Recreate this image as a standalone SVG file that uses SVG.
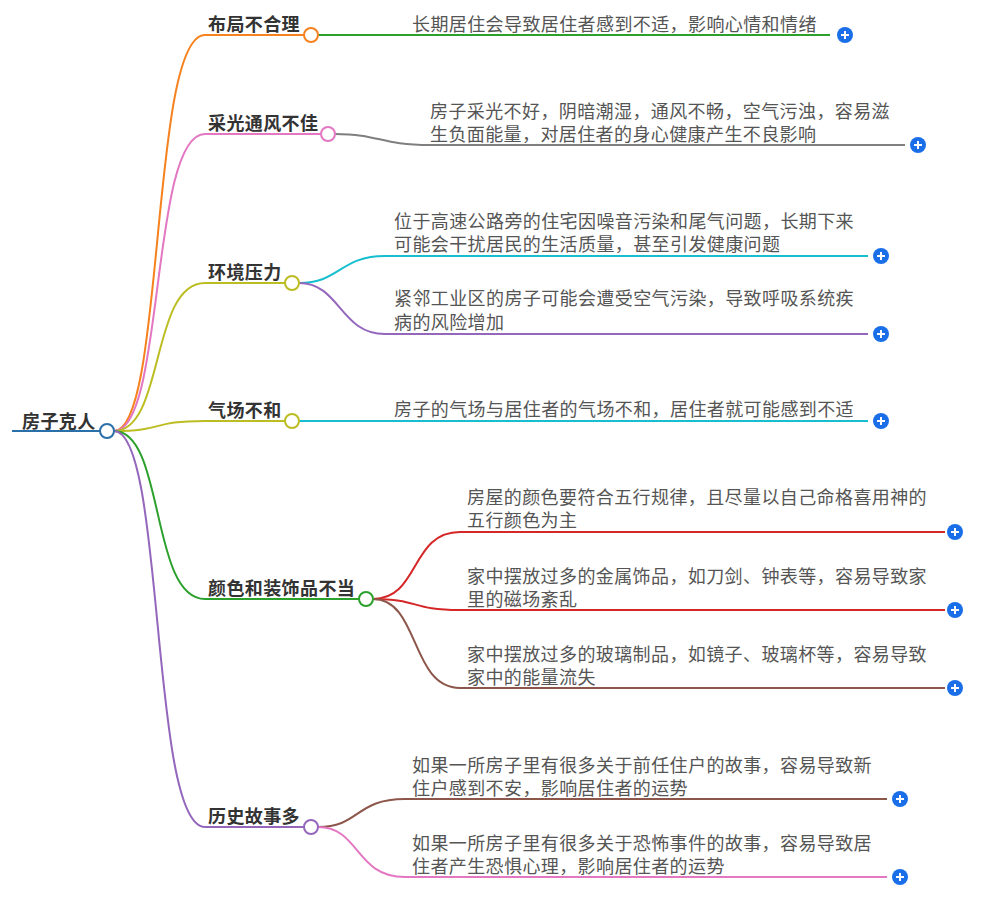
<svg xmlns="http://www.w3.org/2000/svg" width="990" height="897" viewBox="0 0 990 897">
<style>
.t{font-family:"Noto Sans CJK SC",sans-serif;font-size:18px;letter-spacing:0.4px;font-weight:bold;fill:#333}
.c{font-family:"Noto Sans CJK SC",sans-serif;font-size:18px;letter-spacing:0.4px;fill:#555}
path{fill:none;stroke-width:2}
.n{fill:#fff;stroke-width:2}
</style>
<defs>
<g id="plus"><circle r="8" fill="#1a6fe8"/><path d="M-4,0H4M0,-4V4" stroke="#fff" stroke-width="2"/></g>
</defs>
<rect width="990" height="897" fill="#fff"/>
<g id="connectors">
<path d="M12,431H100" stroke="#2a6fa8" stroke-width="4"/>
<path d="M114,431C165,431 150,35 205,35H304" stroke="#f5821f"/>
<path d="M114,431C165,431 150,134 205,134H321" stroke="#e377c2"/>
<path d="M114,431C165,431 150,283 205,283H285" stroke="#bcbd22"/>
<path d="M114,431C165,431 150,421 205,421H285" stroke="#bcbd22"/>
<path d="M114,431C165,431 150,599 205,599H359" stroke="#2ca02c"/>
<path d="M114,431C165,431 150,827 205,827H304" stroke="#9467bd"/>
<path d="M318,35H830" stroke="#2ca02c"/>
<path d="M335,134C380,134 380,145 430,145H905" stroke="#7f7f7f"/>
<path d="M299,283C340,283 340,256 385,256H868" stroke="#17becf"/>
<path d="M299,283C340,283 340,334 385,334H868" stroke="#9467bd"/>
<path d="M299,421H868" stroke="#17becf"/>
<path d="M373,599C420,599 410,532 460,532H945" stroke="#d62728"/>
<path d="M373,599C420,599 410,610 460,610H945" stroke="#d62728"/>
<path d="M373,599C420,599 410,688 460,688H945" stroke="#8c564b"/>
<path d="M318,827C360,827 355,799 405,799H887" stroke="#8c564b"/>
<path d="M318,827C360,827 355,877 405,877H887" stroke="#e377c2"/>
</g>
<g id="root"><text class="t" x="22" y="428">房子克人</text><circle class="n" cx="107" cy="431" r="7" stroke="#2a6fa8"/></g>
<g id="b1"><text class="t" x="208" y="31">布局不合理</text><circle class="n" cx="311" cy="35" r="7" stroke="#f5821f"/></g>
<g id="b2"><text class="t" x="208" y="130">采光通风不佳</text><circle class="n" cx="328" cy="134" r="7" stroke="#e377c2"/></g>
<g id="b3"><text class="t" x="208" y="279">环境压力</text><circle class="n" cx="292" cy="283" r="7" stroke="#bcbd22"/></g>
<g id="b4"><text class="t" x="208" y="417">气场不和</text><circle class="n" cx="292" cy="421" r="7" stroke="#bcbd22"/></g>
<g id="b5"><text class="t" x="208" y="595">颜色和装饰品不当</text><circle class="n" cx="366" cy="599" r="7" stroke="#2ca02c"/></g>
<g id="b6"><text class="t" x="208" y="823">历史故事多</text><circle class="n" cx="311" cy="827" r="7" stroke="#9467bd"/></g>
<g id="l1"><text class="c" x="412" y="31">长期居住会导致居住者感到不适，影响心情和情绪</text><use href="#plus" x="845" y="35"/></g>
<g id="l2"><text class="c" x="430" y="118">房子采光不好，阴暗潮湿，通风不畅，空气污浊，容易滋</text><text class="c" x="430" y="141">生负面能量，对居住者的身心健康产生不良影响</text><use href="#plus" x="918" y="145"/></g>
<g id="l3"><text class="c" x="394" y="228">位于高速公路旁的住宅因噪音污染和尾气问题，长期下来</text><text class="c" x="394" y="251">可能会干扰居民的生活质量，甚至引发健康问题</text><use href="#plus" x="881" y="256"/></g>
<g id="l4"><text class="c" x="394" y="305">紧邻工业区的房子可能会遭受空气污染，导致呼吸系统疾</text><text class="c" x="394" y="329">病的风险增加</text><use href="#plus" x="881" y="334"/></g>
<g id="l5"><text class="c" x="394" y="416">房子的气场与居住者的气场不和，居住者就可能感到不适</text><use href="#plus" x="881" y="421"/></g>
<g id="l6"><text class="c" x="467" y="504">房屋的颜色要符合五行规律，且尽量以自己命格喜用神的</text><text class="c" x="467" y="527">五行颜色为主</text><use href="#plus" x="955" y="532"/></g>
<g id="l7"><text class="c" x="467" y="583">家中摆放过多的金属饰品，如刀剑、钟表等，容易导致家</text><text class="c" x="467" y="606">里的磁场紊乱</text><use href="#plus" x="955" y="610"/></g>
<g id="l8"><text class="c" x="467" y="661">家中摆放过多的玻璃制品，如镜子、玻璃杯等，容易导致</text><text class="c" x="467" y="684">家中的能量流失</text><use href="#plus" x="955" y="688"/></g>
<g id="l9"><text class="c" x="412" y="772">如果一所房子里有很多关于前任住户的故事，容易导致新</text><text class="c" x="412" y="795">住户感到不安，影响居住者的运势</text><use href="#plus" x="900" y="799"/></g>
<g id="l10"><text class="c" x="412" y="850">如果一所房子里有很多关于恐怖事件的故事，容易导致居</text><text class="c" x="412" y="873">住者产生恐惧心理，影响居住者的运势</text><use href="#plus" x="900" y="877"/></g>
</svg>
